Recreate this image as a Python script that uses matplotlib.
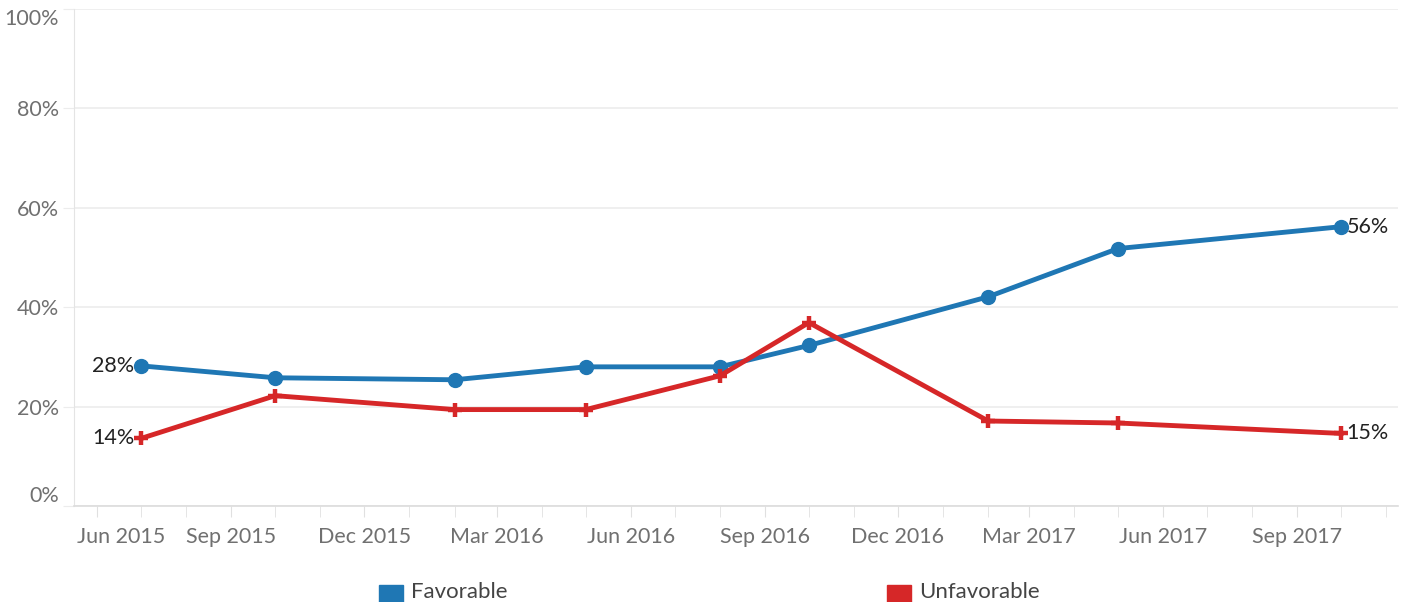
import matplotlib.pyplot as plt
import matplotlib.dates as mdates
import matplotlib.transforms as mtransforms
from matplotlib.patches import Rectangle
import pandas as pd

plt.rcParams['font.family'] = ['Lato', 'DejaVu Sans']

dates = pd.to_datetime(['2015-07-01', '2015-10-01', '2016-02-01', '2016-05-01',
                        '2016-08-01', '2016-10-01', '2017-02-01', '2017-05-01',
                        '2017-10-01'])
favorable = [28.2, 25.8, 25.4, 28.0, 28.0, 32.3, 42.1, 51.8, 56.2]
unfavorable = [13.6, 22.2, 19.4, 19.4, 26.2, 36.9, 17.1, 16.7, 14.6]

blue = '#1f77b4'
red = '#d62728'
grid_c = '#ececec'

fig = plt.figure(figsize=(14.01, 6.02), dpi=100)
ax = fig.add_axes([74 / 1401, 1 - 506 / 602, (1398 - 74) / 1401, (506 - 9) / 602])

ax.plot(dates, favorable, color=blue, lw=3.5, marker='o', ms=10, zorder=3)
ax.plot(dates, unfavorable, color=red, lw=3.5, marker='+', ms=10, mew=3.2, zorder=4)

ax.set_ylim(0, 100)
ax.set_xlim(pd.Timestamp('2015-05-16'), pd.Timestamp('2017-11-09'))

ax.set_yticks([0, 20, 40, 60, 80, 100])
ax.set_yticklabels(['0%', '20%', '40%', '60%', '80%', '100%'])
ax.grid(axis='y', color=grid_c, lw=1.2)
ax.set_axisbelow(True)
ax.tick_params(axis='y', length=8, color=grid_c, labelsize=15.5, labelcolor='#707070', pad=3)
ylabels = ax.get_yticklabels()
ylabels[0].set_va('bottom')
ylabels[-1].set_va('top')

ax.xaxis.set_major_locator(mdates.MonthLocator(bymonth=[3, 6, 9, 12]))
ax.xaxis.set_major_formatter(mdates.DateFormatter('%b %Y'))
ax.xaxis.set_minor_locator(mdates.MonthLocator())
ax.tick_params(axis='x', which='both', length=8, color='#e0e0e0', labelsize=15.5,
               labelcolor='#707070', pad=7)
xl = ax.get_xticklabels()
xl[0].set_transform(xl[0].get_transform() +
                    mtransforms.ScaledTranslation(24 / 100, 0, fig.dpi_scale_trans))

for side in ['top', 'right']:
    ax.spines[side].set_visible(False)
ax.spines['left'].set_color('#e4e4e4')
ax.spines['bottom'].set_color('#dcdcdc')
ax.spines['bottom'].set_linewidth(1.2)

for series in [favorable, unfavorable]:
    ax.annotate(f'{round(series[0])}%', (dates[0], series[0]), xytext=(-5, 0),
                textcoords='offset points', ha='right', va='center',
                fontsize=15.5, color='#222222')
    ax.annotate(f'{round(series[-1])}%', (dates[-1], series[-1]), xytext=(4, 0),
                textcoords='offset points', ha='left', va='center',
                fontsize=15.5, color='#222222')

# legend
for x0, c, name in [(379, blue, 'Favorable'), (887, red, 'Unfavorable')]:
    fig.patches.append(Rectangle((x0 / 1401, 0), 24 / 1401, 17 / 602,
                                 transform=fig.transFigure, color=c))
    fig.text((x0 + 32) / 1401, 10 / 602, name, fontsize=16, color='#444444',
             va='center', ha='left')

fig.savefig('out.png', dpi=100)
